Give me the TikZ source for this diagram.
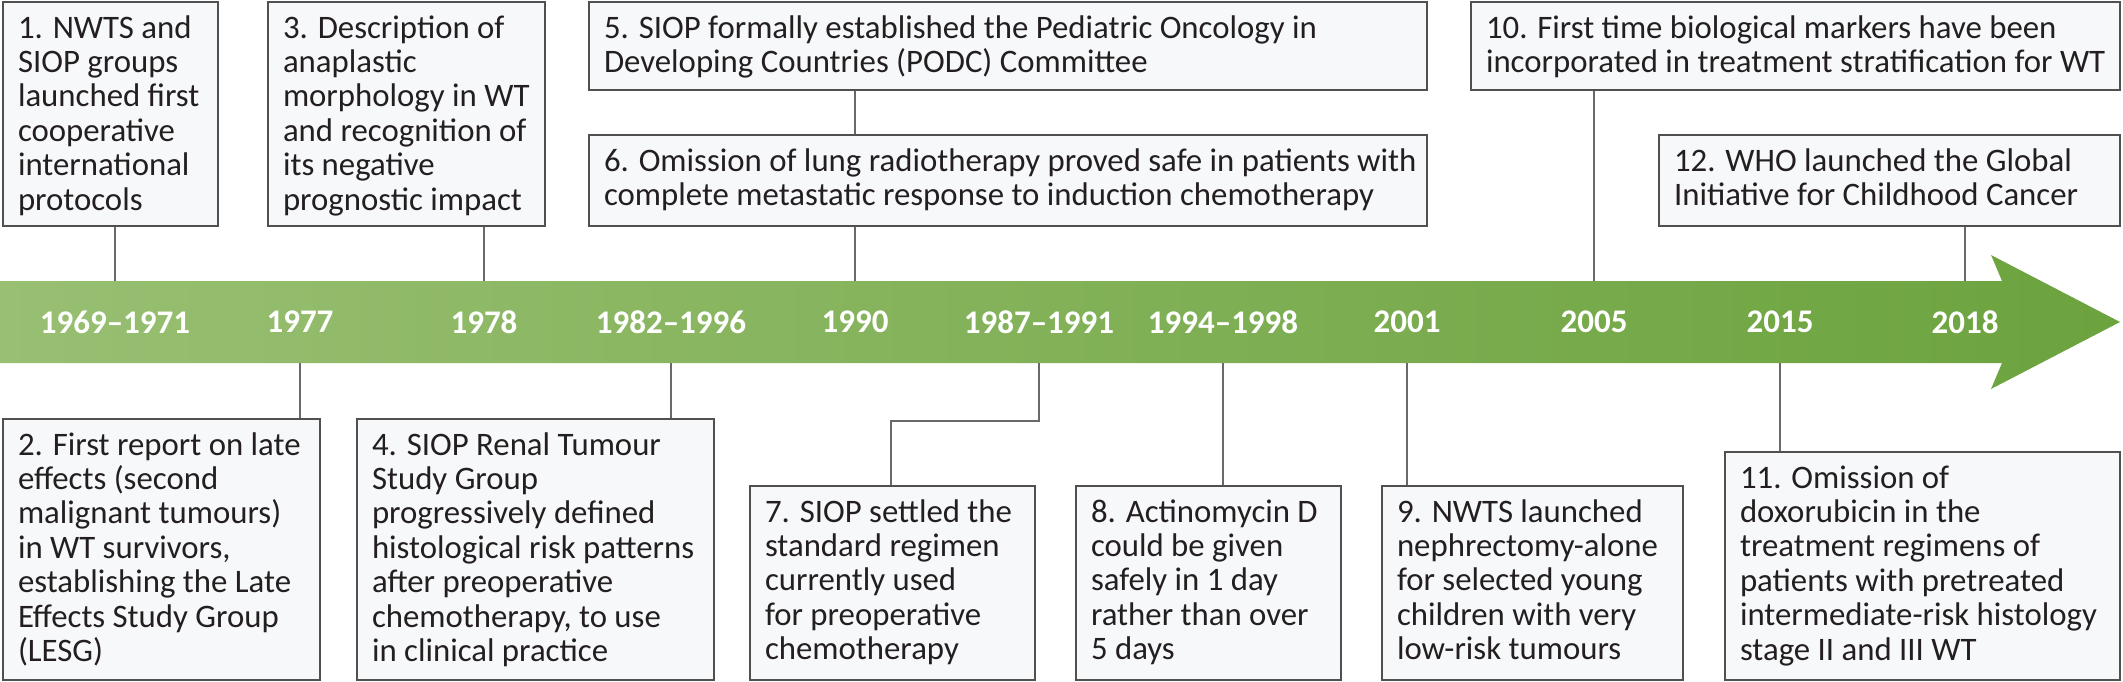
\documentclass[tikz,border=0pt]{standalone}
\usepackage{fontspec}
\setmainfont{Carlito}

\newlength{\du}
\setlength{\du}{1pt}

\definecolor{boxline}{RGB}{80,80,80}
\definecolor{boxfill}{RGB}{247,248,250}
\definecolor{evtext}{RGB}{35,31,32}
\definecolor{stemline}{RGB}{105,105,105}
\definecolor{bandleft}{RGB}{152,191,114}
\definecolor{bandright}{RGB}{108,163,62}

\newcommand{\evfont}{\fontsize{32.8\du}{34.4\du}\selectfont}
\newcommand{\yrfont}{\fontsize{33\du}{36\du}\selectfont\bfseries}
% box text: width, height, lines
\newcommand{\evt}[3]{\parbox[c][#2][t]{#1}{\begin{tabular}[t]{@{}l@{}}\rule{0pt}{36\du}#3\end{tabular}}}

\tikzset{
  evbox/.style={draw=boxline, fill=boxfill, line width=2\du, anchor=north west,
    inner xsep=15\du, inner ysep=0pt, text=evtext, font=\evfont},
  yearlbl/.style={text=white, font=\yrfont, inner sep=0pt},
  stem/.style={draw=stemline, line width=1.8\du}
}

\begin{document}
\begin{tikzpicture}
\pgftransformyscale{-1}
\useasboundingbox (0\du,0\du) rectangle (2123\du,681\du);
% timeline arrow
\shade[left color=bandleft, right color=bandright] (0\du,281\du) -- (2002\du,281\du) -- (1991\du,255\du) -- (2120\du,322\du) -- (1991\du,389\du) -- (2002\du,363\du) -- (0\du,363\du) -- cycle;
\node[yearlbl] (y1) at (115\du,322\du) {1969–1971};
\node[yearlbl] (y2) at (300\du,322\du) {1977};
\node[yearlbl] (y3) at (484\du,322\du) {1978};
\node[yearlbl] (y4) at (671\du,322\du) {1982–1996};
\node[yearlbl] (y5) at (855\du,322\du) {1990};
\node[yearlbl] (y6) at (1039\du,322\du) {1987–1991};
\node[yearlbl] (y7) at (1223\du,322\du) {1994–1998};
\node[yearlbl] (y8) at (1407\du,322\du) {2001};
\node[yearlbl] (y9) at (1594\du,322\du) {2005};
\node[yearlbl] (y10) at (1780\du,322\du) {2015};
\node[yearlbl] (y11) at (1965\du,322\du) {2018};
% ends of the stems on the arrow
\coordinate (t1) at (115\du,281\du);
\coordinate (t3) at (484\du,281\du);
\coordinate (t6) at (855\du,281\du);
\coordinate (t10) at (1594\du,281\du);
\coordinate (t12) at (1965\du,281\du);
\coordinate (s2) at (300\du,363\du);
\coordinate (s4) at (671\du,363\du);
\coordinate (s7) at (1039\du,363\du);
\coordinate (k7) at (891\du,421\du);
\coordinate (s8) at (1223\du,363\du);
\coordinate (s9) at (1407\du,363\du);
\coordinate (s11) at (1780\du,363\du);
% events above
\node[evbox] (b1) at (2\du,1\du) {\evt{185\du}{224\du}{1. NWTS and\\SIOP groups\\launched first\\cooperative\\international\\protocols}};
\node[evbox] (b3) at (267\du,1\du) {\evt{247\du}{224\du}{3. Description of\\anaplastic\\morphology in WT\\and recognition of\\its negative\\prognostic impact}};
\node[evbox] (b5) at (588\du,1\du) {\evt{808\du}{88\du}{5. SIOP formally established the Pediatric Oncology in\\Developing Countries (PODC) Committee}};
\node[evbox] (b6) at (588\du,134\du) {\evt{808\du}{91\du}{6. Omission of lung radiotherapy proved safe in patients with\\complete metastatic response to induction chemotherapy}};
\node[evbox] (b10) at (1470\du,1\du) {\evt{619\du}{88\du}{10. First time biological markers have been\\incorporated in treatment stratification for WT}};
\node[evbox] (b12) at (1658\du,134\du) {\evt{431\du}{91\du}{12. WHO launched the Global\\Initiative for Childhood Cancer}};
% events below
\node[evbox] (b2) at (2\du,418\du) {\evt{287\du}{261\du}{2. First report on late\\effects (second\\malignant tumours)\\in WT survivors,\\establishing the Late\\Effects Study Group\\(LESG)}};
\node[evbox] (b4) at (356\du,418\du) {\evt{327\du}{261\du}{4. SIOP Renal Tumour\\Study Group\\progressively defined\\histological risk patterns\\after preoperative\\chemotherapy, to use\\in clinical practice}};
\node[evbox] (b7) at (749\du,485\du) {\evt{255\du}{194\du}{7. SIOP settled the\\standard regimen\\currently used\\for preoperative\\chemotherapy}};
\node[evbox] (b8) at (1075\du,485\du) {\evt{235\du}{194\du}{8. Actinomycin D\\could be given\\safely in 1 day\\rather than over\\5 days}};
\node[evbox] (b9) at (1381\du,485\du) {\evt{271\du}{194\du}{9. NWTS launched\\nephrectomy-alone\\for selected young\\children with very\\low-risk tumours}};
\node[evbox] (b11) at (1724\du,451\du) {\evt{365\du}{228\du}{11. Omission of\\doxorubicin in the\\treatment regimens of\\patients with pretreated\\intermediate-risk histology\\stage II and III WT}};
% stems
\draw[stem] (b1.south -| t1) -- (t1);
\draw[stem] (b3.south -| t3) -- (t3);
\draw[stem] (b5.south -| t6) -- (b6.north -| t6);
\draw[stem] (b6.south -| t6) -- (t6);
\draw[stem] (b10.south -| t10) -- (t10);
\draw[stem] (b12.south -| t12) -- (t12);
\draw[stem] (s2) -- (b2.north -| s2);
\draw[stem] (s4) -- (b4.north -| s4);
\draw[stem] (s7) |- (k7) -- (k7 |- b7.north);
\draw[stem] (s8) -- (b8.north -| s8);
\draw[stem] (s9) -- (b9.north -| s9);
\draw[stem] (s11) -- (b11.north -| s11);
\end{tikzpicture}
\end{document}
